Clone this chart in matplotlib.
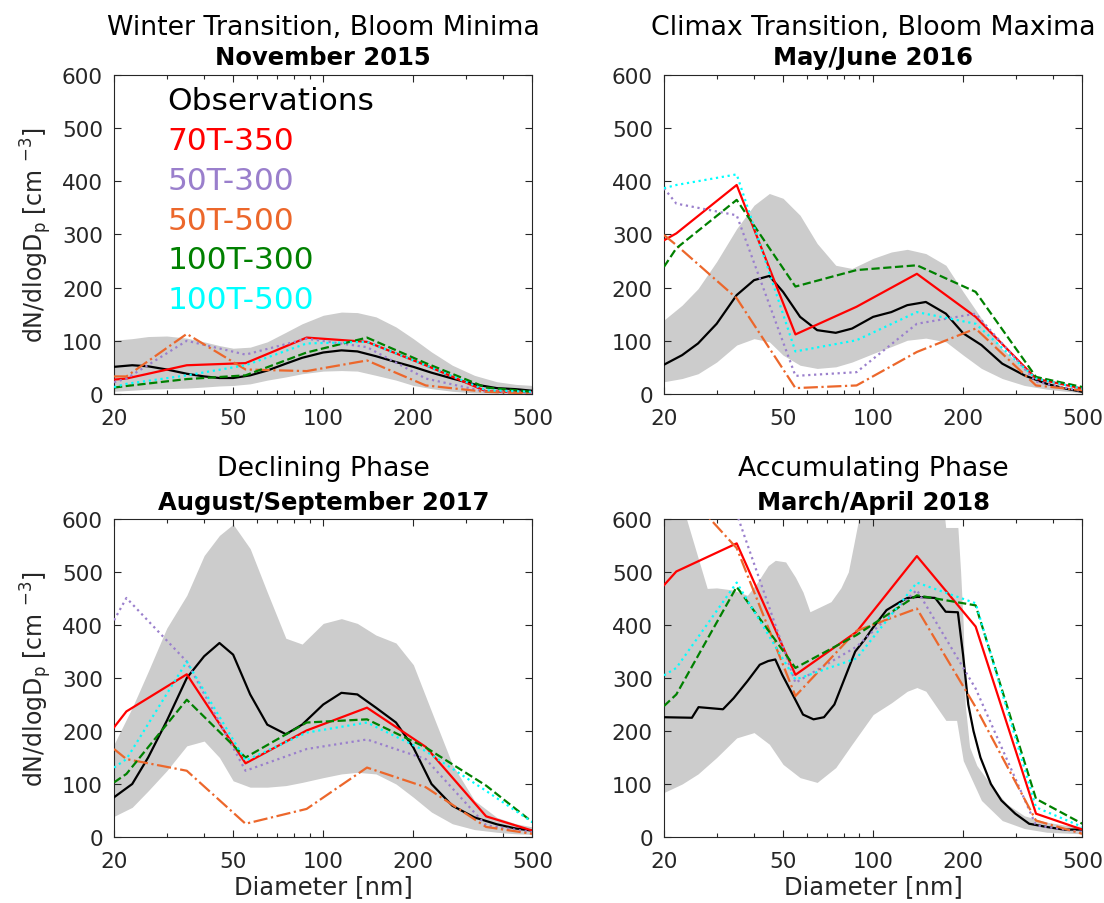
import numpy as np
import matplotlib
matplotlib.use('Agg')
import matplotlib.pyplot as plt
from matplotlib.ticker import FixedLocator, NullFormatter

# ---------------------------------------------------------------
# data
# ---------------------------------------------------------------
model_d = [20, 22, 35, 55, 88, 140, 220, 350, 500]
model_names = ['70T-350', '50T-300', '50T-500', '100T-300', '100T-500']

grid_d = [20, 23, 26, 30, 35, 40, 45, 50, 57, 65, 75, 85, 100, 115, 130,
          150, 175, 200, 230, 270, 320, 380, 440, 500]

# November 2015
p1_obs = [51, 54, 52, 46, 38, 33, 30, 30, 35, 44, 57, 68, 78, 82, 80,
          71, 60, 51, 40, 29, 18, 11, 9, 6]
p1_hi = [101, 104, 108, 109, 105, 98, 91, 86, 88, 98, 116, 132, 148, 154, 153,
         145, 126, 104, 79, 54, 35, 23, 18, 16]
p1_lo = [5, 7, 9, 10, 11, 13, 15, 16, 19, 26, 32, 38, 43, 44, 43,
         35, 26, 16, 10, 5, 2, 1, 1, 1]
p1_70T350 = [27, 29, 54, 58, 106, 98, 54, 5, 3]
p1_50T300 = [22, 29, 100, 74, 104, 88, 29, 4, 2]
p1_50T500 = [33, 33, 113, 46, 43, 63, 16, 4, 1]
p1_100T300 = [12, 15, 28, 35, 78, 106, 58, 12, 4]
p1_100T500 = [13, 19, 35, 54, 95, 98, 54, 7, 4]

# May/June 2016
p2_obs = [55, 73, 95, 132, 186, 214, 222, 192, 145, 120, 115, 123, 145, 154,
          167, 173, 151, 114, 92, 57, 35, 19, 10, 4]
p2_hi = [139, 167, 198, 249, 311, 355, 377, 368, 336, 283, 242, 236, 255, 267,
         272, 264, 242, 192, 142, 85, 48, 23, 13, 4]
p2_lo = [23, 29, 38, 60, 92, 104, 98, 73, 54, 48, 51, 60, 76, 89,
         101, 105, 98, 73, 48, 29, 16, 9, 5, 2]
p2_70T350 = [289, 302, 393, 112, 164, 226, 145, 29, 10]
p2_50T300 = [387, 358, 336, 34, 41, 132, 151, 23, 5]
p2_50T500 = [299, 280, 180, 11, 16, 79, 123, 16, 7]
p2_100T300 = [239, 274, 365, 202, 233, 242, 192, 32, 13]
p2_100T500 = [387, 393, 413, 80, 101, 154, 132, 29, 10]

# August/September 2017
p3_obs = [75, 100, 150, 219, 300, 341, 366, 344, 269, 212, 194, 212, 250, 272,
          269, 244, 216, 169, 100, 59, 37, 24, 16, 12]
p3_hi = [175, 244, 312, 394, 456, 531, 569, 590, 544, 462, 375, 364, 403, 412,
         403, 381, 366, 325, 237, 137, 69, 37, 25, 19]
p3_lo = [39, 56, 87, 125, 172, 181, 150, 106, 94, 94, 97, 103, 112, 119,
         122, 119, 100, 75, 47, 25, 14, 9, 6, 5]
p3_70T350 = [207, 237, 307, 139, 201, 244, 170, 39, 12]
p3_50T300 = [409, 451, 331, 125, 166, 184, 147, 22, 9]
p3_50T500 = [166, 147, 125, 25, 53, 131, 94, 19, 6]
p3_100T300 = [103, 119, 259, 150, 216, 222, 169, 97, 28]
p3_100T500 = [131, 147, 331, 144, 197, 216, 162, 87, 28]

# March/April 2018
p4_obs_d = [20, 24.8, 26.1, 31.5, 34.2, 38, 41.8, 44.6, 47.1, 49.7, 53.8, 58.3,
            63.2, 68.5, 74.2, 80.4, 87.1, 94.4, 99.6, 110.8, 123.4, 130.2, 141,
            161.2, 174.7, 191.9, 199.7, 207.9, 216.4, 228.3, 247.4, 268.1,
            298.4, 332.1, 379.7, 433.9, 500]
p4_obs = [226, 225, 245, 241, 262, 294, 325, 332, 335, 306, 269, 231,
          222, 226, 250, 300, 350, 375, 394, 428, 444, 451, 453,
          451, 425, 424, 344, 250, 200, 150, 100, 69,
          44, 25, 19, 14, 14]
p4_hi_d = [20, 23.5, 27.9, 30, 34, 38, 41, 44.6, 47.1, 51, 55, 58.3, 61.5, 67,
           72.3, 78, 82.6, 86, 89.5, 95, 170, 174.7, 191.9, 196, 200, 203,
           210, 222, 250, 280, 320, 380, 440, 500]
p4_hi = [650, 610, 469, 470, 466, 456, 480, 512, 522, 519, 490, 462, 425, 435,
         444, 470, 500, 550, 600, 650, 650, 584, 584, 500, 400, 250,
         170, 135, 95, 62, 40, 28, 22, 20]
p4_lo_d = [20, 23, 26, 30, 35, 40, 45, 50, 57, 65, 75, 85, 100, 115, 130, 140,
           150, 175, 190, 200, 230, 270, 320, 380, 500]
p4_lo = [84, 100, 119, 150, 187, 197, 175, 137, 112, 103, 131, 175, 231, 253,
         275, 282, 275, 220, 220, 144, 69, 31, 16, 9, 6]
p4_70T350 = [475, 501, 554, 306, 387, 530, 397, 44, 14]
p4_50T300 = [800, 780, 610, 291, 359, 466, 280, 22, 9]
p4_50T500 = [690, 670, 545, 266, 389, 431, 245, 31, 6]
p4_100T300 = [247, 269, 472, 319, 381, 456, 437, 72, 25]
p4_100T500 = [305, 319, 480, 297, 337, 480, 441, 56, 19]

titles = ['Winter Transition, Bloom Minima', 'Climax Transition, Bloom Maxima',
          'Declining Phase', 'Accumulating Phase']
subtitles = ['November 2015', 'May/June 2016', 'August/September 2017',
             'March/April 2018']

# ---------------------------------------------------------------
# styles
# ---------------------------------------------------------------
txt_c = '#262626'
band_c = '#CCCCCC'
m_colors = ['#FF0000', '#9A7FCC', '#EC672B', '#008000', '#00FFFF']
m_styles = ['-', ':', '-.', '--', ':']

panels = [
    (grid_d, p1_obs, grid_d, p1_hi, grid_d, p1_lo,
     [p1_70T350, p1_50T300, p1_50T500, p1_100T300, p1_100T500]),
    (grid_d, p2_obs, grid_d, p2_hi, grid_d, p2_lo,
     [p2_70T350, p2_50T300, p2_50T500, p2_100T300, p2_100T500]),
    (grid_d, p3_obs, grid_d, p3_hi, grid_d, p3_lo,
     [p3_70T350, p3_50T300, p3_50T500, p3_100T300, p3_100T500]),
    (p4_obs_d, p4_obs, p4_hi_d, p4_hi, p4_lo_d, p4_lo,
     [p4_70T350, p4_50T300, p4_50T500, p4_100T300, p4_100T500]),
]

# axes rectangles [left, bottom, width, height] in figure fractions
rects = [
    [0.1033, 0.5631, 0.3790, 0.3529],
    [0.6014, 0.5631, 0.3790, 0.3529],
    [0.1033, 0.0730, 0.3790, 0.3518],
    [0.6014, 0.0730, 0.3790, 0.3518],
]

fig = plt.figure(figsize=(11.04, 9.04), dpi=100)

for i, (od, obs, hd, hi, ld, lo, models) in enumerate(panels):
    ax = fig.add_axes(rects[i])

    # shaded range built on the union of the two edges' diameters
    band_d = np.unique(np.concatenate([hd, ld]))
    log_b = np.log10(band_d)
    up = np.interp(log_b, np.log10(hd), hi)
    dn = np.interp(log_b, np.log10(ld), lo)
    ax.fill_between(band_d, dn, up, color=band_c, lw=0, zorder=1)

    ax.plot(od, obs, color='k', lw=1.6, zorder=3)
    for vals, c, ls in zip(models, m_colors, m_styles):
        ax.plot(model_d, vals, color=c, ls=ls, lw=1.6, zorder=3)

    ax.set_xscale('log')
    ax.set_xlim(20, 500)
    ax.set_ylim(0, 600)
    ax.xaxis.set_major_locator(FixedLocator([20, 50, 100, 200, 500]))
    ax.xaxis.set_minor_locator(FixedLocator([30, 40, 60, 70, 80, 90, 300, 400]))
    ax.xaxis.set_minor_formatter(NullFormatter())
    ax.set_xticklabels(['20', '50', '100', '200', '500'])
    ax.set_yticks(range(0, 601, 100))

    ax.tick_params(which='both', direction='in', top=True, right=True,
                   colors=txt_c, labelsize=15.5, width=0.8)
    ax.tick_params(which='major', length=5)
    ax.tick_params(axis='x', which='major', pad=10)
    ax.tick_params(axis='y', which='major', pad=8)
    ax.tick_params(which='minor', length=3)
    for sp in ax.spines.values():
        sp.set_color(txt_c)
        sp.set_linewidth(0.8)

    top = 1.1285 if i < 2 else 1.138
    sub = 1.0345 if i < 2 else 1.031
    ax.text(0.5, top, titles[i], transform=ax.transAxes, ha='center',
            va='baseline', fontsize=19.3, color='k')
    ax.text(0.5, sub, subtitles[i], transform=ax.transAxes, ha='center',
            va='baseline', fontsize=17.5, fontweight='bold', color='k')

    if i % 2 == 0:
        ax.set_ylabel('dN/dlogD$_\\mathregular{p}$ [cm $^{\\mathregular{-3}}$]',
                      fontsize=17, color=txt_c, labelpad=6)
    if i >= 2:
        ax.set_xlabel('Diameter [nm]', fontsize=17.5, color=txt_c, labelpad=2)

    # legend drawn as coloured text in the first panel
    if i == 0:
        leg_y = [0.919, 0.794, 0.669, 0.545, 0.420, 0.295]
        leg_lab = ['Observations'] + model_names
        leg_col = ['k'] + m_colors
        for yy, lab, c in zip(leg_y, leg_lab, leg_col):
            ax.text(0.128, yy, lab, transform=ax.transAxes, ha='left',
                    va='center', fontsize=22.5, color=c, zorder=5)

fig.savefig('out.png', dpi=100)
